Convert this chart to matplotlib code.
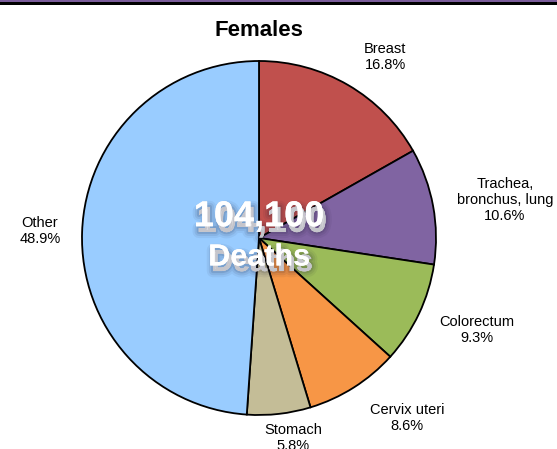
import matplotlib
matplotlib.use("Agg")
import matplotlib.pyplot as plt
import matplotlib.patheffects as pe
from matplotlib.patches import Rectangle

categories = ["Breast", "Trachea,\nbronchus, lung", "Colorectum", "Cervix uteri", "Stomach", "Other"]
shares = [16.8, 10.6, 9.3, 8.6, 5.8, 48.9]
colors = ["#C0504D", "#8064A2", "#9BBB59", "#F79646", "#C4BD97", "#99CCFF"]
total_deaths = "104,100"
title = "Females"

# label centre positions in pie data units (radius = 1)
label_pos = [(0.712, 1.023), (1.390, 0.215), (1.232, -0.520), (0.836, -1.017), (0.192, -1.130), (-1.237, 0.040)]

plt.rcParams['font.family'] = ['Liberation Sans', 'DejaVu Sans']

W, H = 557, 449
fig = plt.figure(figsize=(W / 100, H / 100), dpi=100)
fig.patch.set_facecolor('white')

cx, cy, r = 259, 238, 177
ax = fig.add_axes([(cx - r) / W, (H - cy - r) / H, 2 * r / W, 2 * r / H])
ax.pie(shares, colors=colors, startangle=90, counterclock=False,
       wedgeprops=dict(edgecolor='black', linewidth=1.3), radius=1)
ax.set_xlim(-1, 1)
ax.set_ylim(-1, 1)
ax.set_aspect('equal')
ax.axis('off')

for cat, val, (x, y) in zip(categories, shares, label_pos):
    ax.text(x, y, f"{cat}\n{val:.1f}%", ha='center', va='center', fontsize=10.5,
            linespacing=1.15, clip_on=False)

shadow = [pe.Stroke(linewidth=9, foreground=(0.1, 0.1, 0.2, 0.06), offset=(2, -4)),
          pe.Stroke(linewidth=6, foreground=(0.1, 0.1, 0.2, 0.08), offset=(2, -4)),
          pe.Stroke(linewidth=3, foreground=(0.1, 0.1, 0.2, 0.12), offset=(2, -4)),
          pe.withSimplePatchShadow(offset=(2, -4), shadow_rgbFace=(0.1, 0.1, 0.2), alpha=0.15),
          pe.Normal()]
ax.text(0, 0.12, total_deaths, ha='center', va='center', fontsize=26,
        fontweight='bold', color='white', path_effects=shadow)
ax.text(0, -0.11, "Deaths", ha='center', va='center', fontsize=22,
        fontweight='bold', color='white', path_effects=shadow)

fig.text(cx / W, 1 - 30 / H, title, ha='center', va='center', fontsize=16, fontweight='bold')

# top frame band
fig.patches.append(Rectangle((0, 1 - 5 / H), 1, 5 / H, transform=fig.transFigure,
                             facecolor='black', edgecolor='none'))
fig.patches.append(Rectangle((0, 1 - 1.5 / H), 1, 1.5 / H, transform=fig.transFigure,
                             facecolor='#7A5C9A', edgecolor='none'))

fig.savefig("out.png", dpi=100)
